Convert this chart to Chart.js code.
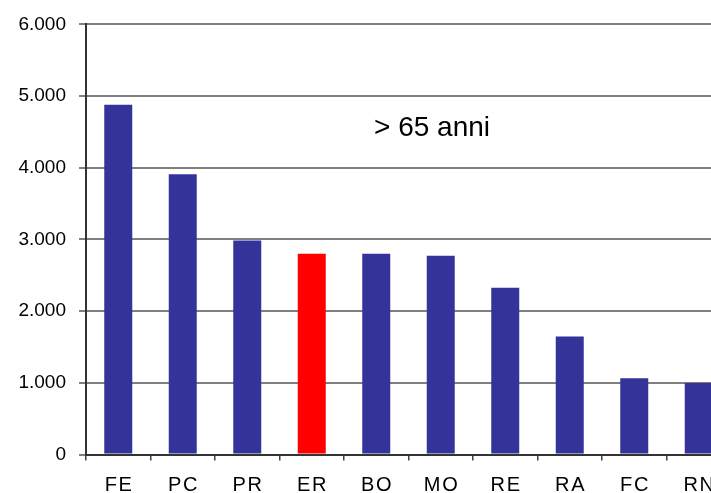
<!DOCTYPE html>
<html>
<head>
<meta charset="utf-8">
<script src="https://cdn.jsdelivr.net/npm/chart.js@4/dist/chart.umd.min.js"></script>
<style>
  html, body { margin: 0; padding: 0; background: #fff; overflow: hidden; }
  #wrap { width: 740px; height: 493px; }
</style>
</head>
<body>
<div id="wrap"><canvas id="chart" width="740" height="493"></canvas></div>
<script>
const PROVINCES = ['FE', 'PC', 'PR', 'ER', 'BO', 'MO', 'RE', 'RA', 'FC', 'RN'];
const OVER_65 = [4878, 3910, 2985, 2799, 2799, 2772, 2326, 1646, 1062, 997];
const Y_TICKS = [0, 1000, 2000, 3000, 4000, 5000, 6000];
const TITLE = '> 65 anni';
const HIGHLIGHT = 'ER';

const FONT = "'Liberation Sans', Arial, sans-serif";
const BAR = '#333399';
const BAR_HI = '#ff0000';

function formatThousands(v) {
  return String(v).replace(/\B(?=(\d{3})+(?!\d))/g, '.');
}

const titlePlugin = {
  id: 'innerTitle',
  afterDraw(chart) {
    const ctx = chart.ctx;
    ctx.save();
    ctx.font = `28px ${FONT}`;
    ctx.fillStyle = '#000';
    ctx.textAlign = 'center';
    ctx.textBaseline = 'middle';
    ctx.fillText(TITLE, 432, 128);
    ctx.restore();
  },
};

new Chart(document.getElementById('chart'), {
  type: 'bar',
  data: {
    labels: PROVINCES,
    datasets: [{
      data: OVER_65,
      backgroundColor: PROVINCES.map(p => p === HIGHLIGHT ? BAR_HI : BAR),
      borderWidth: 0,
      barPercentage: 0.434,
      categoryPercentage: 1,
    }],
  },
  options: {
    responsive: false,
    animation: false,
    layout: { padding: { top: 22.5, right: 9, left: 0, bottom: 0 } },
    plugins: { legend: { display: false }, tooltip: { enabled: false } },
    scales: {
      x: {
        offset: true,
        grid: { offset: true, drawOnChartArea: false, tickLength: 6, tickColor: '#404040', lineWidth: 1.5 },
        border: { color: '#333', width: 2 },
        ticks: {
          color: '#000',
          padding: 13,
          maxRotation: 0,
          font: { family: FONT, size: 20 },
          callback(v) { return this.getLabelForValue(v).split('').join('\u200A'); },
        },
        afterFit(scale) { scale.height = 38.5; },
      },
      y: {
        min: 0,
        max: 6000,
        afterBuildTicks(scale) { scale.ticks = Y_TICKS.map(v => ({ value: v })); },
        grid: { color: '#808080', lineWidth: 2, tickLength: 7, tickColor: '#808080' },
        border: { color: '#333', width: 2 },
        ticks: {
          color: '#000',
          padding: 13,
          font: { family: FONT, size: 19 },
          callback: v => formatThousands(v),
        },
        afterFit(scale) { scale.width = 86; },
      },
    },
  },
  plugins: [titlePlugin],
});
</script>
</body>
</html>
